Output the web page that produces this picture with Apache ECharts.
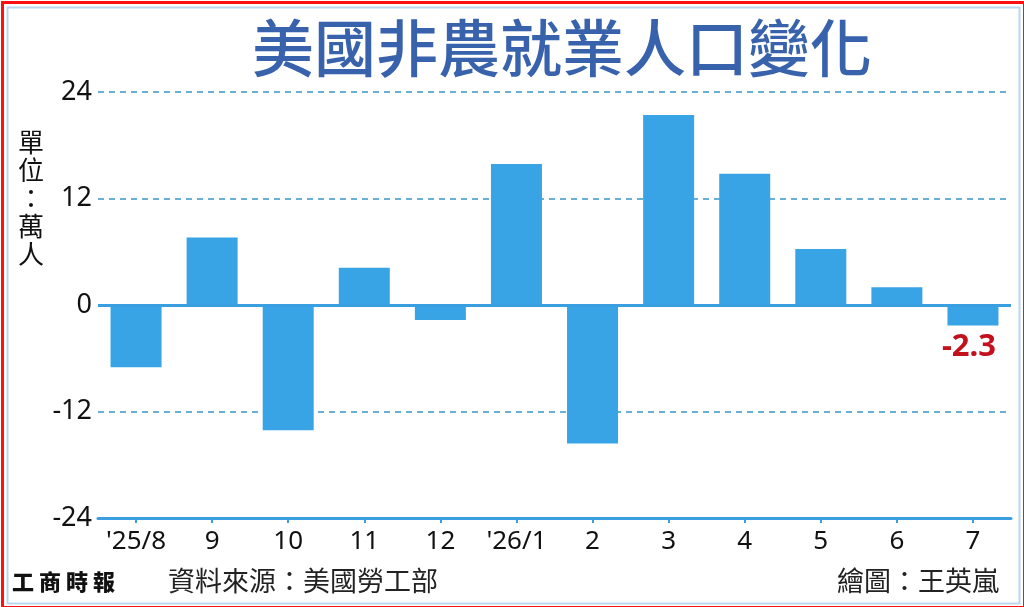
<!DOCTYPE html>
<html lang="zh-Hant">
<head>
    <meta charset="utf-8"/>
    <title>美國非農就業人口變化</title>
    <script src="https://cdn.jsdelivr.net/npm/echarts@6/dist/echarts.min.js"></script>
    <style>
        html, body { margin: 0; padding: 0; background: #fff; }
        #chart { width: 1024px; height: 607px; }
    </style>
</head>
<body>
<div id="chart"></div>
<script>
    // 月份與非農就業變化（萬人）
    var months = ["'25/8", '9', '10', '11', '12', "'26/1", '2', '3', '4', '5', '6', '7'];
    var jobs = [-7.0, 7.6, -14.1, 4.2, -1.7, 15.9, -15.6, 21.4, 14.8, 6.3, 2.0, -2.3];
    var yTicks = [-24, -12, 0, 12, 24];

    var cjk = '"Noto Sans CJK TC", "Noto Sans", sans-serif';
    var num = '"Noto Sans", "DejaVu Sans", sans-serif';

    // 只標最後一筆
    var barData = jobs.map(function (v, i) {
        if (i === jobs.length - 1) {
            return {
                value: v,
                label: {
                    show: true,
                    position: 'bottom',
                    distance: 6,
                    offset: [-4, 0],
                    formatter: '{c}',
                    color: '#c2111c',
                    fontSize: 31,
                    fontWeight: 'bold',
                    fontFamily: num
                }
            };
        }
        return v;
    });

    var myChart = echarts.init(document.getElementById('chart'));
    var option = {
        backgroundColor: '#fff',
        animation: false,
        title: {
            text: '美國非農就業人口變化',
            left: 557,
            top: 12,
            textAlign: 'center',
            textStyle: {
                color: '#3862ab',
                fontSize: 62,
                fontWeight: 500,
                fontFamily: cjk
            }
        },
        grid: { left: 98, right: 13, top: 92, bottom: 89 },
        xAxis: {
            type: 'category',
            data: months,
            axisLine: { show: true, onZero: false, lineStyle: { color: '#3a9fe0', width: 3 } },
            axisTick: { show: true, alignWithLabel: true, length: 5, lineStyle: { color: '#3a9fe0', width: 2 } },
            axisLabel: { color: '#111', fontSize: 26, fontFamily: num, margin: 11, interval: 0 }
        },
        yAxis: {
            type: 'value',
            min: yTicks[0],
            max: yTicks[yTicks.length - 1],
            interval: 12,
            axisLine: { show: false },
            axisTick: { show: false },
            axisLabel: { color: '#111', fontSize: 27, fontFamily: num, margin: 6 },
            splitLine: { show: true, lineStyle: { color: '#3a96c8', type: [6, 5], width: 1.5 } }
        },
        series: [{
            type: 'bar',
            data: barData,
            barWidth: 51,
            itemStyle: { color: '#38a3e5' },
            markLine: {
                silent: true,
                symbol: 'none',
                label: { show: false },
                lineStyle: { color: '#3a9fe0', type: 'solid', width: 3 },
                data: [{ yAxis: 0 }]
            }
        }],
        graphic: [
            // 外框
            { type: 'rect', left: 0, top: 0, z: 100, silent: true,
              shape: { width: 1022, height: 605 },
              style: { fill: 'none', stroke: '#ff1010', lineWidth: 3 } },
            { type: 'rect', left: 5, top: 5, z: 100, silent: true,
              shape: { width: 1012, height: 596 },
              style: { fill: 'none', stroke: '#b9d8ef', lineWidth: 2 } },
            // 單位
            { type: 'text', left: 18, top: 128,
              style: { text: '單\n位\n：\n萬\n人', fill: '#111', font: '26px ' + cjk, lineHeight: 28, align: 'center' } },
            // 報頭
            { type: 'text', left: 12, top: 571,
              style: { text: '工 商 時 報', fill: '#111', font: '900 22px ' + cjk } },
            { type: 'text', left: 168, top: 567,
              style: { text: '資料來源：美國勞工部', fill: '#222', font: '27px ' + cjk } },
            { type: 'text', right: 25, top: 567,
              style: { text: '繪圖：王英嵐', fill: '#222', font: '27px ' + cjk } }
        ]
    };
    myChart.setOption(option);
</script>
</body>
</html>
